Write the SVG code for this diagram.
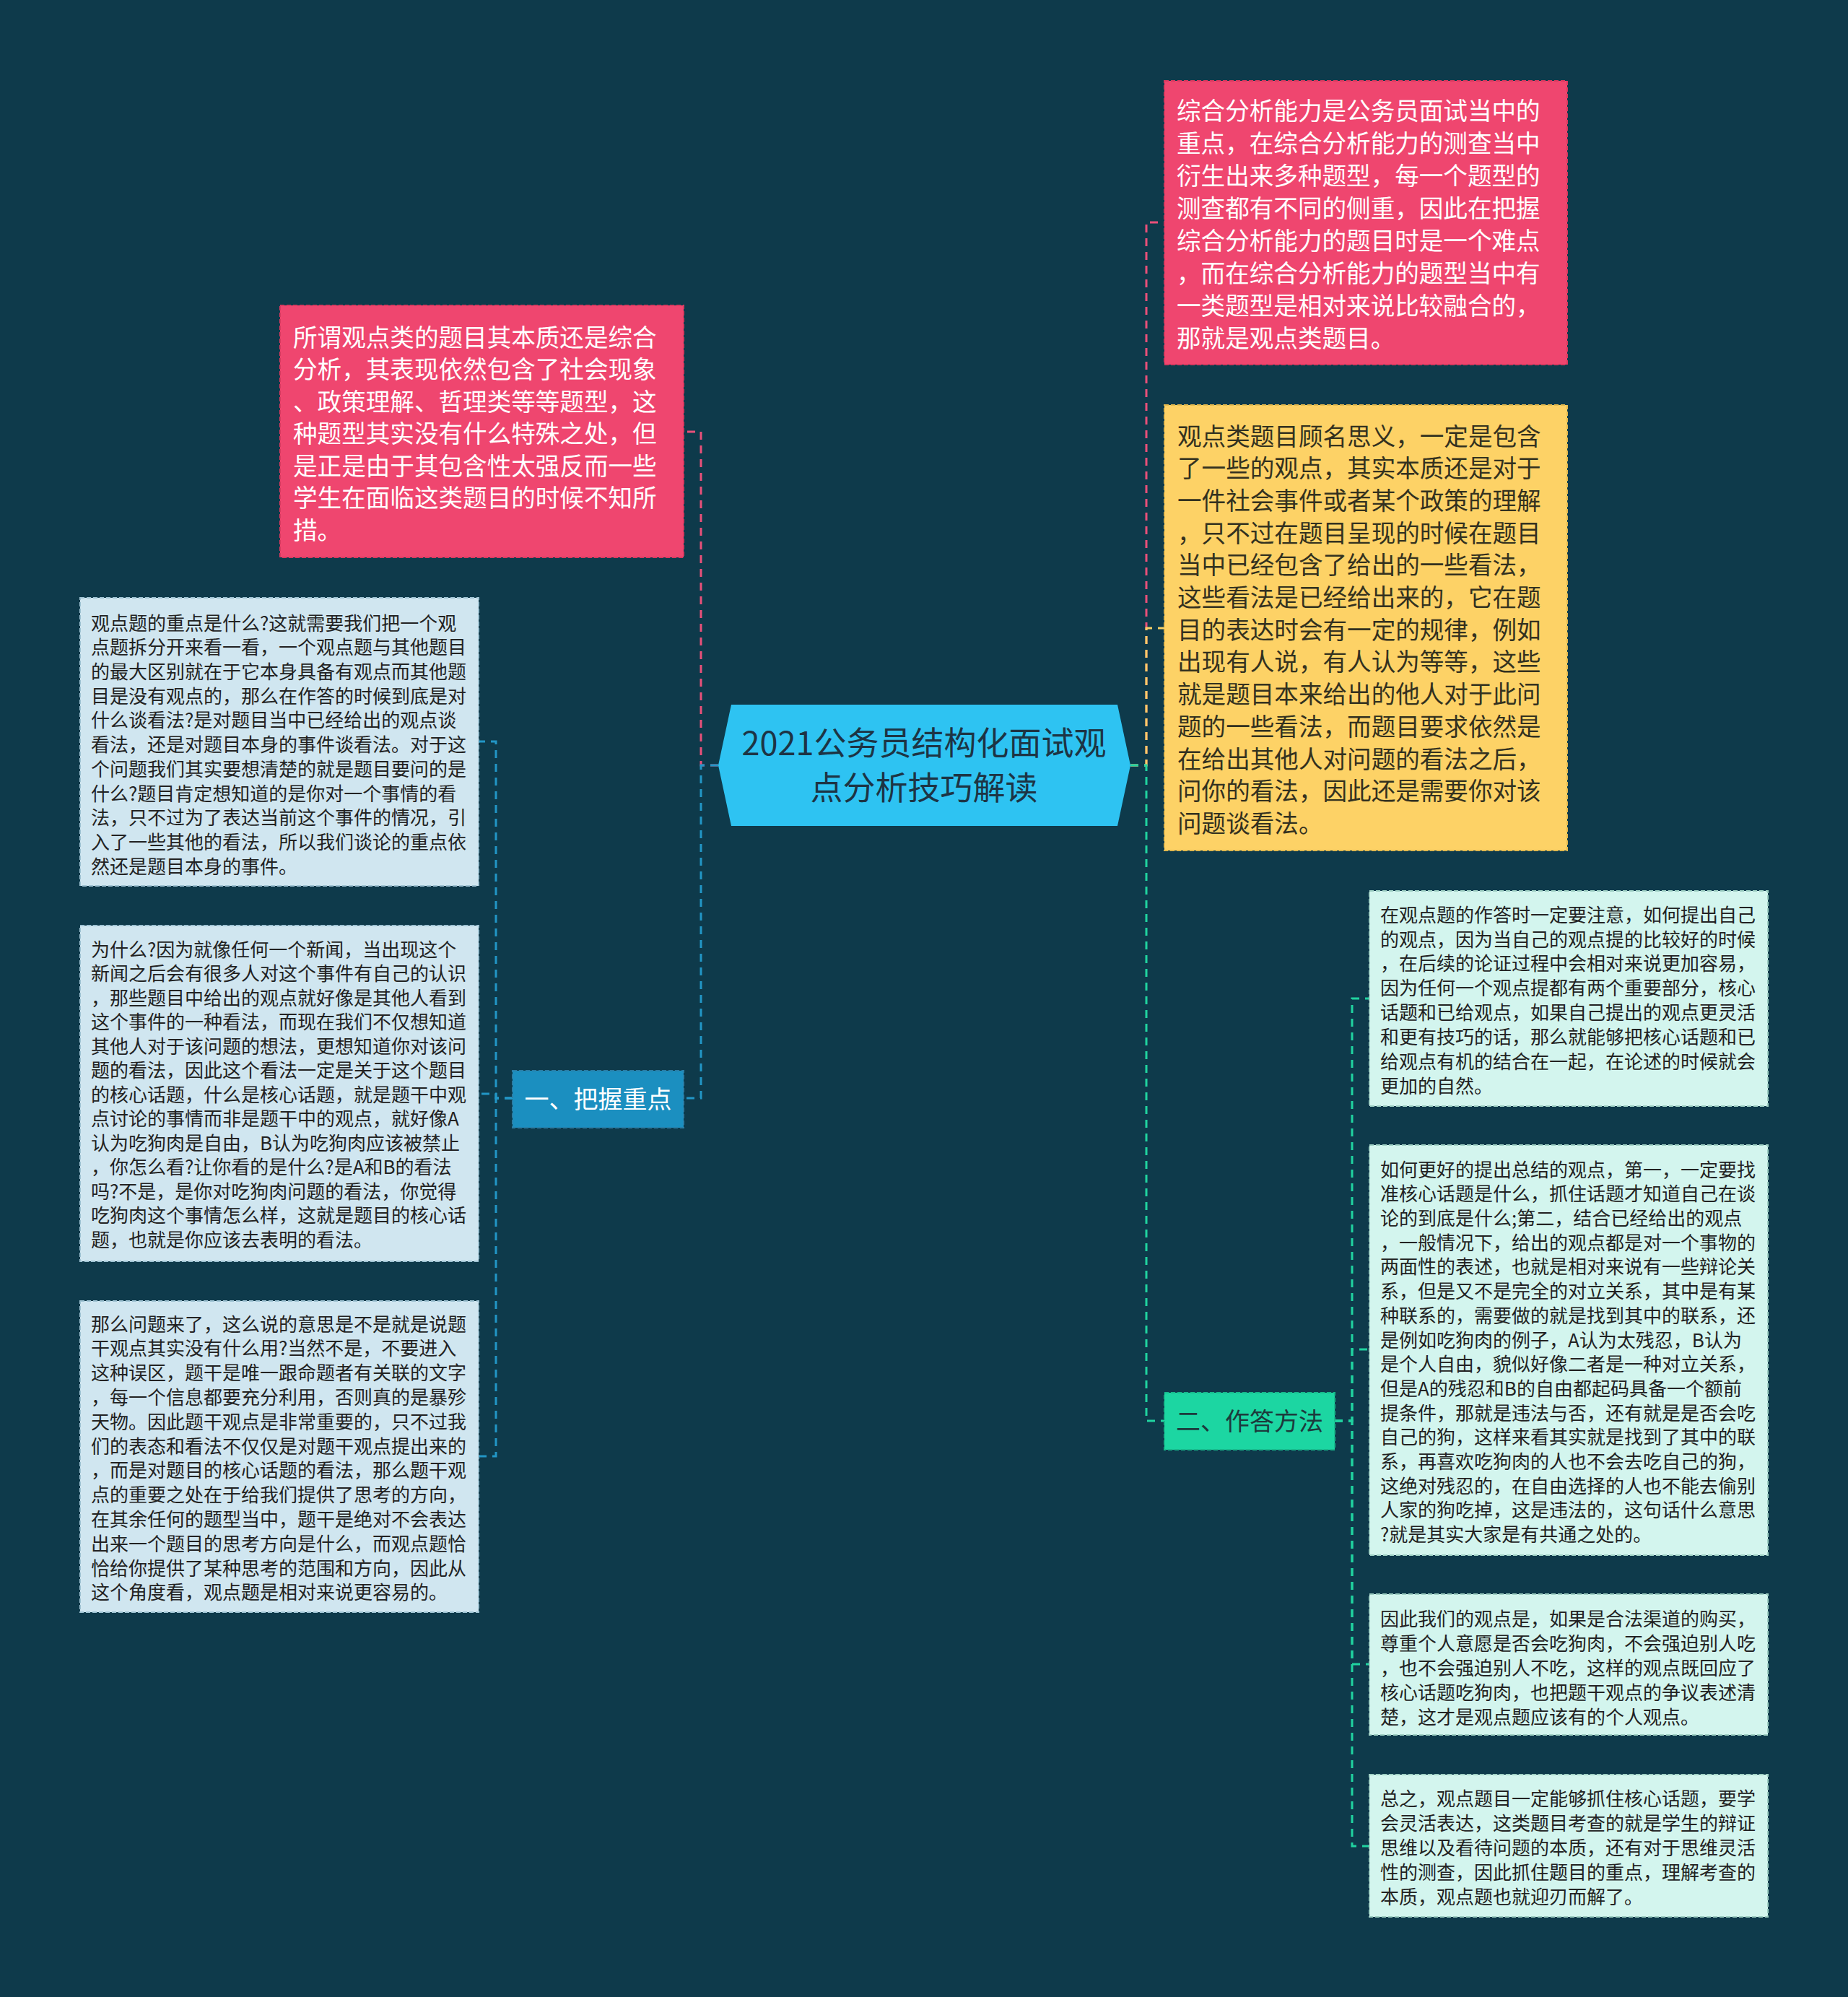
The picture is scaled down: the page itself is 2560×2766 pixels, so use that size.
<svg xmlns="http://www.w3.org/2000/svg" width="2560" height="2766" viewBox="0 0 2560 2766">
<style>
text{font-family:"Noto Sans CJK SC","Noto Sans",sans-serif;}
.conn{fill:none;stroke-width:3;stroke-dasharray:11 8;}
.big{font-size:33.6px;}
.small{font-size:26px;fill:#222;}
.bx{stroke-width:2;stroke-dasharray:6 3;}
.lb{fill:#d0e6f0;stroke:#9fc3d3;}
.rb{fill:#d3f5ee;stroke:#9fd0c4;}
</style>
<rect width="2560" height="2766" fill="#0e3a4b"/>
<g id="connectors">
<path class="conn" stroke="#e9507a" d="M995,1060 H971 V598 H947"/>
<path class="conn" stroke="#2296c6" d="M995,1060 H971 V1521 H947"/>
<path class="conn" stroke="#2296c6" d="M710,1521 H687 V1027 H663"/>
<path class="conn" stroke="#2296c6" d="M710,1521 H687 V1515 H663"/>
<path class="conn" stroke="#2296c6" d="M710,1521 H687 V2017 H663"/>
<path class="conn" stroke="#e9507a" d="M1566,1060 H1588 V308 H1613"/>
<path class="conn" stroke="#f5cf66" d="M1566,1060 H1588 V870 H1613"/>
<path class="conn" stroke="#20d3a0" d="M1566,1060 H1588 V1968 H1613"/>
<path class="conn" stroke="#20d3a0" d="M1849,1968 H1873 V1383 H1897"/>
<path class="conn" stroke="#20d3a0" d="M1849,1968 H1873 V1869 H1897"/>
<path class="conn" stroke="#20d3a0" d="M1849,1968 H1873 V2305 H1897"/>
<path class="conn" stroke="#20d3a0" d="M1849,1968 H1873 V2557 H1897"/>
</g>
<g id="center">
<polygon points="995,1060 1013,976 1548,976 1566,1060 1548,1144 1013,1144" fill="#2ec3f2"/>
<text x="1280" y="1046" font-size="45" fill="#1d3444" text-anchor="middle">2021公务员结构化面试观</text>
<text x="1280" y="1108" font-size="45" fill="#1d3444" text-anchor="middle">点分析技巧解读</text>
</g>
<g id="node-tl">
<rect class="bx" x="388" y="423" width="559" height="349" fill="#ef466f" stroke="#d9395f"/>
<text class="big" fill="#ffffff">
<tspan x="406" y="479.5">所谓观点类的题目其本质还是综合</tspan>
<tspan x="406" y="524">分析，其表现依然包含了社会现象</tspan>
<tspan x="406" y="568.5">、政策理解、哲理类等等题型，这</tspan>
<tspan x="406" y="613">种题型其实没有什么特殊之处，但</tspan>
<tspan x="406" y="657.5">是正是由于其包含性太强反而一些</tspan>
<tspan x="406" y="702">学生在面临这类题目的时候不知所</tspan>
<tspan x="406" y="746.5">措。</tspan>
</text>
</g>
<g id="node-b1">
<rect class="bx" x="710" y="1483" width="237" height="79" fill="#1b8fc0" stroke="#2a7ea6"/>
<text x="828.5" y="1535" font-size="34" fill="#ffffff" text-anchor="middle">一、把握重点</text>
</g>
<g id="node-l1">
<rect class="bx lb" x="111" y="828" width="552" height="399"/>
<text class="small">
<tspan x="126" y="872.6">观点题的重点是什么?这就需要我们把一个观</tspan>
<tspan x="126" y="906.3">点题拆分开来看一看，一个观点题与其他题目</tspan>
<tspan x="126" y="940">的最大区别就在于它本身具备有观点而其他题</tspan>
<tspan x="126" y="973.7">目是没有观点的，那么在作答的时候到底是对</tspan>
<tspan x="126" y="1007.4">什么谈看法?是对题目当中已经给出的观点谈</tspan>
<tspan x="126" y="1041.1">看法，还是对题目本身的事件谈看法。对于这</tspan>
<tspan x="126" y="1074.8">个问题我们其实要想清楚的就是题目要问的是</tspan>
<tspan x="126" y="1108.5">什么?题目肯定想知道的是你对一个事情的看</tspan>
<tspan x="126" y="1142.2">法，只不过为了表达当前这个事件的情况，引</tspan>
<tspan x="126" y="1175.9">入了一些其他的看法，所以我们谈论的重点依</tspan>
<tspan x="126" y="1209.6">然还是题目本身的事件。</tspan>
</text>
</g>
<g id="node-l2">
<rect class="bx lb" x="111" y="1282" width="552" height="465"/>
<text class="small">
<tspan x="126" y="1324.6">为什么?因为就像任何一个新闻，当出现这个</tspan>
<tspan x="126" y="1358.1">新闻之后会有很多人对这个事件有自己的认识</tspan>
<tspan x="126" y="1391.6">，那些题目中给出的观点就好像是其他人看到</tspan>
<tspan x="126" y="1425.1">这个事件的一种看法，而现在我们不仅想知道</tspan>
<tspan x="126" y="1458.6">其他人对于该问题的想法，更想知道你对该问</tspan>
<tspan x="126" y="1492.1">题的看法，因此这个看法一定是关于这个题目</tspan>
<tspan x="126" y="1525.6">的核心话题，什么是核心话题，就是题干中观</tspan>
<tspan x="126" y="1559.1">点讨论的事情而非是题干中的观点，就好像A</tspan>
<tspan x="126" y="1592.6">认为吃狗肉是自由，B认为吃狗肉应该被禁止</tspan>
<tspan x="126" y="1626.1">，你怎么看?让你看的是什么?是A和B的看法</tspan>
<tspan x="126" y="1659.6">吗?不是，是你对吃狗肉问题的看法，你觉得</tspan>
<tspan x="126" y="1693.1">吃狗肉这个事情怎么样，这就是题目的核心话</tspan>
<tspan x="126" y="1726.6">题，也就是你应该去表明的看法。</tspan>
</text>
</g>
<g id="node-l3">
<rect class="bx lb" x="111" y="1802" width="552" height="431"/>
<text class="small">
<tspan x="126" y="1843.6">那么问题来了，这么说的意思是不是就是说题</tspan>
<tspan x="126" y="1877.4">干观点其实没有什么用?当然不是，不要进入</tspan>
<tspan x="126" y="1911.2">这种误区，题干是唯一跟命题者有关联的文字</tspan>
<tspan x="126" y="1945">，每一个信息都要充分利用，否则真的是暴殄</tspan>
<tspan x="126" y="1978.8">天物。因此题干观点是非常重要的，只不过我</tspan>
<tspan x="126" y="2012.6">们的表态和看法不仅仅是对题干观点提出来的</tspan>
<tspan x="126" y="2046.4">，而是对题目的核心话题的看法，那么题干观</tspan>
<tspan x="126" y="2080.2">点的重要之处在于给我们提供了思考的方向，</tspan>
<tspan x="126" y="2114">在其余任何的题型当中，题干是绝对不会表达</tspan>
<tspan x="126" y="2147.8">出来一个题目的思考方向是什么，而观点题恰</tspan>
<tspan x="126" y="2181.6">恰给你提供了某种思考的范围和方向，因此从</tspan>
<tspan x="126" y="2215.4">这个角度看，观点题是相对来说更容易的。</tspan>
</text>
</g>
<g id="node-rt">
<rect class="bx" x="1613" y="112" width="558" height="393" fill="#ef466f" stroke="#d9395f"/>
<text class="big" fill="#ffffff">
<tspan x="1630" y="165.5">综合分析能力是公务员面试当中的</tspan>
<tspan x="1630" y="210.5">重点，在综合分析能力的测查当中</tspan>
<tspan x="1630" y="255.5">衍生出来多种题型，每一个题型的</tspan>
<tspan x="1630" y="300.5">测查都有不同的侧重，因此在把握</tspan>
<tspan x="1630" y="345.5">综合分析能力的题目时是一个难点</tspan>
<tspan x="1630" y="390.5">，而在综合分析能力的题型当中有</tspan>
<tspan x="1630" y="435.5">一类题型是相对来说比较融合的，</tspan>
<tspan x="1630" y="480.5">那就是观点类题目。</tspan>
</text>
</g>
<g id="node-ry">
<rect class="bx" x="1613" y="561" width="558" height="617" fill="#fdd266" stroke="#e3b94e"/>
<text class="big" fill="#33311f">
<tspan x="1631" y="616.5">观点类题目顾名思义，一定是包含</tspan>
<tspan x="1631" y="661.2">了一些的观点，其实本质还是对于</tspan>
<tspan x="1631" y="705.9">一件社会事件或者某个政策的理解</tspan>
<tspan x="1631" y="750.6">，只不过在题目呈现的时候在题目</tspan>
<tspan x="1631" y="795.3">当中已经包含了给出的一些看法，</tspan>
<tspan x="1631" y="840">这些看法是已经给出来的，它在题</tspan>
<tspan x="1631" y="884.7">目的表达时会有一定的规律，例如</tspan>
<tspan x="1631" y="929.4">出现有人说，有人认为等等，这些</tspan>
<tspan x="1631" y="974.1">就是题目本来给出的他人对于此问</tspan>
<tspan x="1631" y="1018.8">题的一些看法，而题目要求依然是</tspan>
<tspan x="1631" y="1063.5">在给出其他人对问题的看法之后，</tspan>
<tspan x="1631" y="1108.2">问你的看法，因此还是需要你对该</tspan>
<tspan x="1631" y="1152.9">问题谈看法。</tspan>
</text>
</g>
<g id="node-b2">
<rect class="bx" x="1613" y="1929" width="236" height="79" fill="#1cd6a2" stroke="#17b98b"/>
<text x="1731" y="1981" font-size="34" fill="#1c3a3c" text-anchor="middle">二、作答方法</text>
</g>
<g id="node-r1">
<rect class="bx rb" x="1897" y="1234" width="552" height="298"/>
<text class="small">
<tspan x="1912" y="1276.6">在观点题的作答时一定要注意，如何提出自己</tspan>
<tspan x="1912" y="1310.5">的观点，因为当自己的观点提的比较好的时候</tspan>
<tspan x="1912" y="1344.4">，在后续的论证过程中会相对来说更加容易，</tspan>
<tspan x="1912" y="1378.3">因为任何一个观点提都有两个重要部分，核心</tspan>
<tspan x="1912" y="1412.2">话题和已给观点，如果自己提出的观点更灵活</tspan>
<tspan x="1912" y="1446.1">和更有技巧的话，那么就能够把核心话题和已</tspan>
<tspan x="1912" y="1480">给观点有机的结合在一起，在论述的时候就会</tspan>
<tspan x="1912" y="1513.9">更加的自然。</tspan>
</text>
</g>
<g id="node-r2">
<rect class="bx rb" x="1897" y="1586" width="552" height="568"/>
<text class="small">
<tspan x="1912" y="1629.6">如何更好的提出总结的观点，第一，一定要找</tspan>
<tspan x="1912" y="1663.3">准核心话题是什么，抓住话题才知道自己在谈</tspan>
<tspan x="1912" y="1697">论的到底是什么;第二，结合已经给出的观点</tspan>
<tspan x="1912" y="1730.7">，一般情况下，给出的观点都是对一个事物的</tspan>
<tspan x="1912" y="1764.4">两面性的表述，也就是相对来说有一些辩论关</tspan>
<tspan x="1912" y="1798.1">系，但是又不是完全的对立关系，其中是有某</tspan>
<tspan x="1912" y="1831.8">种联系的，需要做的就是找到其中的联系，还</tspan>
<tspan x="1912" y="1865.5">是例如吃狗肉的例子，A认为太残忍，B认为</tspan>
<tspan x="1912" y="1899.2">是个人自由，貌似好像二者是一种对立关系，</tspan>
<tspan x="1912" y="1932.9">但是A的残忍和B的自由都起码具备一个额前</tspan>
<tspan x="1912" y="1966.6">提条件，那就是违法与否，还有就是是否会吃</tspan>
<tspan x="1912" y="2000.3">自己的狗，这样来看其实就是找到了其中的联</tspan>
<tspan x="1912" y="2034">系，再喜欢吃狗肉的人也不会去吃自己的狗，</tspan>
<tspan x="1912" y="2067.7">这绝对残忍的，在自由选择的人也不能去偷别</tspan>
<tspan x="1912" y="2101.4">人家的狗吃掉，这是违法的，这句话什么意思</tspan>
<tspan x="1912" y="2135.1">?就是其实大家是有共通之处的。</tspan>
</text>
</g>
<g id="node-r3">
<rect class="bx rb" x="1897" y="2208" width="552" height="195"/>
<text class="small">
<tspan x="1912" y="2251.6">因此我们的观点是，如果是合法渠道的购买，</tspan>
<tspan x="1912" y="2285.6">尊重个人意愿是否会吃狗肉，不会强迫别人吃</tspan>
<tspan x="1912" y="2319.6">，也不会强迫别人不吃，这样的观点既回应了</tspan>
<tspan x="1912" y="2353.6">核心话题吃狗肉，也把题干观点的争议表述清</tspan>
<tspan x="1912" y="2387.6">楚，这才是观点题应该有的个人观点。</tspan>
</text>
</g>
<g id="node-r4">
<rect class="bx rb" x="1897" y="2458" width="552" height="197"/>
<text class="small">
<tspan x="1912" y="2500.6">总之，观点题目一定能够抓住核心话题，要学</tspan>
<tspan x="1912" y="2534.6">会灵活表达，这类题目考查的就是学生的辩证</tspan>
<tspan x="1912" y="2568.6">思维以及看待问题的本质，还有对于思维灵活</tspan>
<tspan x="1912" y="2602.6">性的测查，因此抓住题目的重点，理解考查的</tspan>
<tspan x="1912" y="2636.6">本质，观点题也就迎刃而解了。</tspan>
</text>
</g>
</svg>
